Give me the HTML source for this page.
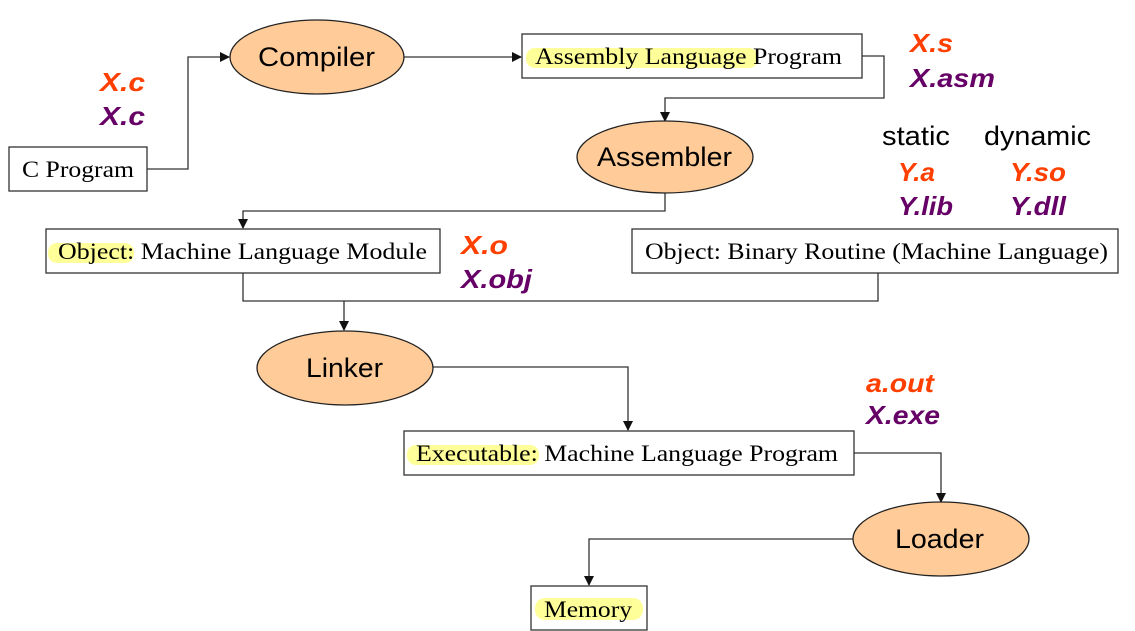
<!DOCTYPE html>
<html><head><meta charset="utf-8"><style>
html,body{margin:0;padding:0;background:#fff;}
svg{display:block;}
.box{fill:#fff;stroke:#333;stroke-width:1.3;}
.ell{fill:#FFCC99;stroke:#222;stroke-width:1.3;}
.ln{fill:none;stroke:#333;stroke-width:1.3;}
.st{font-family:"Liberation Serif",serif;font-size:23px;fill:#000;}
.et{font-family:"Liberation Sans",sans-serif;font-size:27px;fill:#000;}
.lb{font-family:"Liberation Sans",sans-serif;font-size:26px;font-weight:bold;font-style:italic;}
.o{fill:#FF3F00;}.p{fill:#660066;}
.hl{fill:#FFFF99;}
</style></head><body>
<svg width="1135" height="631" viewBox="0 0 1135 631">
<defs><marker id="a" markerWidth="10" markerHeight="10" refX="9" refY="5" orient="auto" markerUnits="userSpaceOnUse"><path d="M0,0 L10,5 L0,10 z" fill="#111"/></marker></defs>
<path class="ln" d="M147,169 H188 V57 H229" marker-end="url(#a)"/>
<path class="ln" d="M404,57 H521" marker-end="url(#a)"/>
<path class="ln" d="M862,56 H884 V98 H665 V121" marker-end="url(#a)"/>
<path class="ln" d="M665,193 V211 H243 V228" marker-end="url(#a)"/>
<path class="ln" d="M243,273 V301 H878 V273"/>
<path class="ln" d="M344,301 V330" marker-end="url(#a)"/>
<path class="ln" d="M433,367 H628 V430" marker-end="url(#a)"/>
<path class="ln" d="M854,453 H941 V502" marker-end="url(#a)"/>
<path class="ln" d="M854,539 H589 V585" marker-end="url(#a)"/>
<ellipse class="ell" cx="317" cy="57" rx="87" ry="37"/>
<text class="et" x="258" y="66" textLength="117" lengthAdjust="spacingAndGlyphs">Compiler</text>
<ellipse class="ell" cx="665" cy="157" rx="88" ry="36"/>
<text class="et" x="597" y="166" textLength="135" lengthAdjust="spacingAndGlyphs">Assembler</text>
<ellipse class="ell" cx="345" cy="368" rx="88" ry="37"/>
<text class="et" x="306" y="377" textLength="77" lengthAdjust="spacingAndGlyphs">Linker</text>
<ellipse class="ell" cx="941" cy="539" rx="88" ry="37"/>
<text class="et" x="895" y="548" textLength="89" lengthAdjust="spacingAndGlyphs">Loader</text>
<rect class="box" x="9" y="147" width="138" height="44"/>
<text class="st" x="22" y="177" textLength="112" lengthAdjust="spacingAndGlyphs">C Program</text>
<rect class="box" x="522" y="34" width="340" height="44"/>
<rect class="hl" x="526" y="48" width="232" height="20" rx="9"/>
<text class="st" x="535" y="64" textLength="307" lengthAdjust="spacingAndGlyphs">Assembly Language Program</text>
<rect class="box" x="46" y="229" width="394" height="44"/>
<rect class="hl" x="48" y="243" width="86" height="20" rx="9"/>
<text class="st" x="58" y="259" textLength="369" lengthAdjust="spacingAndGlyphs">Object: Machine Language Module</text>
<rect class="box" x="632" y="229" width="486" height="44"/>
<text class="st" x="645" y="259" textLength="463" lengthAdjust="spacingAndGlyphs">Object: Binary Routine (Machine Language)</text>
<rect class="box" x="404" y="431" width="450" height="44"/>
<rect class="hl" x="407" y="445" width="132" height="20" rx="9"/>
<text class="st" x="416" y="461" textLength="422" lengthAdjust="spacingAndGlyphs">Executable: Machine Language Program</text>
<rect class="box" x="531" y="586" width="116" height="44"/>
<rect class="hl" x="535" y="598" width="108" height="22" rx="10"/>
<text class="st" x="544" y="617" textLength="88" lengthAdjust="spacingAndGlyphs">Memory</text>
<text class="lb o" x="100" y="91" textLength="45" lengthAdjust="spacingAndGlyphs">X.c</text>
<text class="lb p" x="100" y="125" textLength="45" lengthAdjust="spacingAndGlyphs">X.c</text>
<text class="lb o" x="910" y="52" textLength="43" lengthAdjust="spacingAndGlyphs">X.s</text>
<text class="lb p" x="910" y="87" textLength="85" lengthAdjust="spacingAndGlyphs">X.asm</text>
<text x="882" y="145" font-family="Liberation Sans,sans-serif" font-size="27" textLength="68" lengthAdjust="spacingAndGlyphs">static</text>
<text x="984" y="145" font-family="Liberation Sans,sans-serif" font-size="27" textLength="107" lengthAdjust="spacingAndGlyphs">dynamic</text>
<text class="lb o" x="898" y="181" textLength="37" lengthAdjust="spacingAndGlyphs">Y.a</text>
<text class="lb p" x="898" y="215" textLength="55" lengthAdjust="spacingAndGlyphs">Y.lib</text>
<text class="lb o" x="1010" y="181" textLength="56" lengthAdjust="spacingAndGlyphs">Y.so</text>
<text class="lb p" x="1010" y="215" textLength="56" lengthAdjust="spacingAndGlyphs">Y.dll</text>
<text class="lb o" x="461" y="254" textLength="47" lengthAdjust="spacingAndGlyphs">X.o</text>
<text class="lb p" x="461" y="288" textLength="71" lengthAdjust="spacingAndGlyphs">X.obj</text>
<text class="lb o" x="866" y="392" textLength="68" lengthAdjust="spacingAndGlyphs">a.out</text>
<text class="lb p" x="866" y="424" textLength="74" lengthAdjust="spacingAndGlyphs">X.exe</text>
</svg>
</body></html>
